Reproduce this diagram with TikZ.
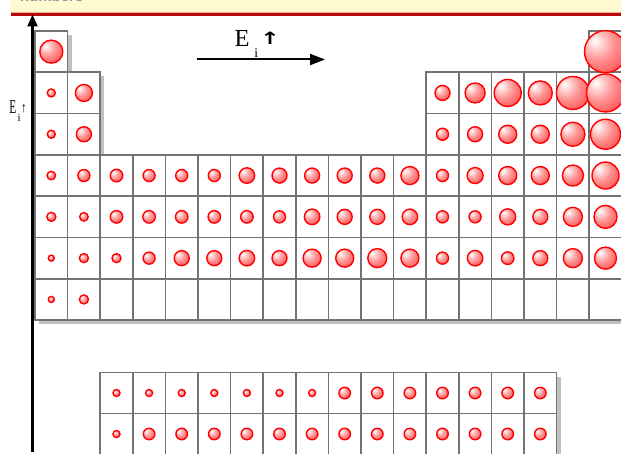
\documentclass[tikz,border=0pt]{standalone}
\usepackage{fontspec}
\setmainfont{Liberation Serif}
\newfontfamily\arrowfont{DejaVu Sans}
\newfontfamily\hdrfont{Liberation Sans}
\usetikzlibrary{arrows.meta}
\definecolor{gridgray}{RGB}{115,115,115}
\definecolor{shadowgray}{RGB}{192,192,192}
\definecolor{bandyellow}{RGB}{255,251,208}
\definecolor{bandred}{RGB}{185,10,10}
\definecolor{bandline}{RGB}{236,176,150}
\definecolor{ballred}{RGB}{255,0,0}
\definecolor{hdrgray}{RGB}{150,150,150}
\pgfdeclareradialshading{sph}{\pgfpoint{-13bp}{13bp}}{color(0bp)=(white); color(7bp)=(white!85!red); color(20bp)=(red!42!white); color(34bp)=(red!62!white); color(46bp)=(red!85!white); color(56bp)=(red); color(100bp)=(red)}
\def\mainlist{1/1/23, 18/1/42, 1/2/8, 2/2/17, 13/2/15, 14/2/20, 15/2/27, 16/2/24, 17/2/33, 18/2/38, 1/3/8, 2/3/15, 13/3/12, 14/3/15, 15/3/18, 16/3/18, 17/3/24, 18/3/30, 1/4/8.5, 2/4/12, 3/4/12.5, 4/4/12, 5/4/12, 6/4/12, 7/4/15.5, 8/4/15, 9/4/15, 10/4/15, 11/4/15, 12/4/18, 13/4/12, 14/4/16, 15/4/18, 16/4/18, 17/4/21, 18/4/27, 1/5/9, 2/5/8.5, 3/5/12.5, 4/5/12.5, 5/5/12.5, 6/5/12.5, 7/5/12.5, 8/5/12, 9/5/15.5, 10/5/15, 11/5/15, 12/5/15.5, 13/5/12, 14/5/12, 15/5/16, 16/5/15, 17/5/19, 18/5/23, 1/6/6, 2/6/9, 3/6/9, 4/6/12, 5/6/15, 6/6/15, 7/6/15.5, 8/6/15, 9/6/18, 10/6/18, 11/6/19, 12/6/18, 13/6/12, 14/6/15.5, 15/6/12.5, 16/6/15, 17/6/19, 18/6/22, 1/7/6, 2/7/9, 3/7/0, 4/7/0, 5/7/0, 6/7/0, 7/7/0, 8/7/0, 9/7/0, 10/7/0, 11/7/0, 12/7/0, 13/7/0, 14/7/0, 15/7/0, 16/7/0, 17/7/0, 18/7/0}
\def\lanlist{1/1/7, 2/1/7, 3/1/7, 4/1/7, 5/1/7, 6/1/7, 7/1/7, 8/1/11.5, 9/1/11.5, 10/1/11.5, 11/1/11.5, 12/1/11.5, 13/1/11.5, 14/1/11.5, 1/2/7, 2/2/11.5, 3/2/11.5, 4/2/11.5, 5/2/11.5, 6/2/11.5, 7/2/11.5, 8/2/11.5, 9/2/11.5, 10/2/11.5, 11/2/11.5, 12/2/11.5, 13/2/11.5, 14/2/11.5}
\tikzset{
  cellbox/.style={fill=white, draw=gridgray, line width=1.6pt},
  cellshadow/.style={fill=shadowgray},
  ball/.style={shading=sph, draw=ballred, line width=1.4pt},
  axisarrow/.style={draw=black, line width=2.4pt, -{Triangle[length=12pt,width=10pt]}},
  energyarrow/.style={draw=black, line width=2pt, -{Triangle[length=15pt,width=11pt]}},
  lbl/.style={inner sep=0pt, outer sep=0pt, text=black}
}
\begin{document}
\begin{tikzpicture}[x=1pt,y=-1pt]
\useasboundingbox (0,0) rectangle (621,454);
\begin{scope}
\clip (0,0) rectangle (621,454);
% header band
\fill[bandyellow] (11,0) rectangle (621,12.3);
\fill[bandline] (11,12.3) rectangle (621,13.3);
\fill[bandred] (11,13.3) rectangle (621,16.2);
\node[lbl, anchor=base west, text=hdrgray, font=\hdrfont\bfseries\fontsize{15}{15}\selectfont] (hdr) at (20,1.8) {numbers};
% shadows
\foreach \c/\r/\d in \mainlist {
  \fill[cellshadow] ({35+(\c-1)*32.6+4},{31+(\r-1)*41.3+4}) rectangle ++(32.6,41.3);
}
\foreach \c/\r/\d in \lanlist {
  \fill[cellshadow] ({100.2+(\c-1)*32.6+4},{372.5+(\r-1)*41+4}) rectangle ++(32.6,41);
}
% cells
\foreach \c/\r/\d in \mainlist {
  \draw[cellbox] ({35+(\c-1)*32.6},{31+(\r-1)*41.3}) rectangle ++(32.6,41.3);
}
\foreach \c/\r/\d in \lanlist {
  \draw[cellbox] ({100.2+(\c-1)*32.6},{372.5+(\r-1)*41}) rectangle ++(32.6,41);
}
% spheres
\foreach \c/\r/\d in \mainlist {
  \ifdim\d pt>0pt
    \shade[ball] ({35+(\c-0.5)*32.6},{31+(\r-0.5)*41.3}) circle[radius={\d*0.5pt}];
  \fi
}
\foreach \c/\r/\d in \lanlist {
  \shade[ball] ({100.2+(\c-0.5)*32.6},{372.5+(\r-0.5)*41}) circle[radius={\d*0.5pt}];
}
% vertical axis
\coordinate (vbot) at (32.5,452);
\coordinate (vtop) at (32.5,14.5);
\draw[axisarrow] (vbot) -- (vtop);
\node[lbl, anchor=base west, font=\fontsize{19.5}{19.5}\selectfont] (vE) at (9.3,113.3) {\scalebox{0.58}[1]{E}};
\node[lbl, anchor=base west, font=\fontsize{11}{11}\selectfont] (vi) at (17.6,121.8) {i};
\node[lbl, anchor=base west, font=\fontsize{14}{14}\selectfont] (va) at (21.2,112.8) {\scalebox{0.8}[1]{↑}};
% horizontal energy arrow
\coordinate (hl) at (197,59.5);
\coordinate (hr) at (325,59.5);
\draw[energyarrow] (hl) -- (hr);
\node[lbl, anchor=base west, font=\fontsize{24.5}{24.5}\selectfont] (hE) at (234.5,47) {E};
\node[lbl, anchor=base west, font=\fontsize{13.5}{13.5}\selectfont] (hi) at (254.3,57.5) {i};
\node[lbl, anchor=center, font=\arrowfont\bfseries\fontsize{17}{17}\selectfont] (ha) at (270,38.5) {\scalebox{1.4}[1]{↑}};
\end{scope}
\end{tikzpicture}
\end{document}
